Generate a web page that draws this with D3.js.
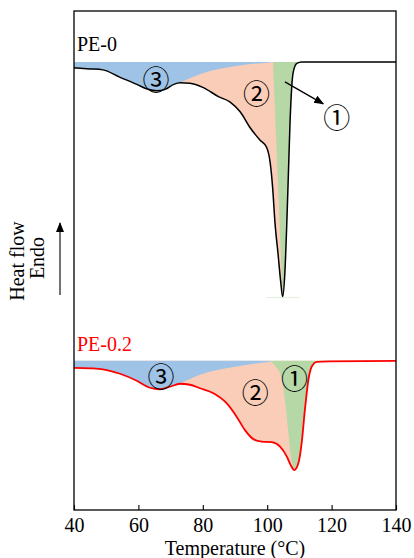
<!DOCTYPE html>
<html>
<head>
<meta charset="utf-8">
<script src="https://cdn.jsdelivr.net/npm/d3@7/dist/d3.min.js"></script>
<style>
  html, body { margin: 0; padding: 0; background: #fff; }
  svg { display: block; }
  text { font-family: "Liberation Serif", "Times New Roman", serif; }
</style>
</head>
<body>
<svg id="chart" width="414" height="558"></svg>
<script>
// ---------- data ----------
const tempTicks = [40, 60, 80, 100, 120, 140];

// PE-0 DSC curve [temperature °C, heat flow (a.u.)]
const pe0Curve = [[40,8.86],[45,8.84],[49,8.82],[54,8.68],[59.5,8.53],[63,8.43],[65.7,8.40],[68.3,8.43],[71,8.53],[73,8.56],[76,8.55],[80,8.47],[85,8.28],[88.4,8.18],[91.6,7.98],[94.7,7.66],[97.8,7.41],[99.8,7.27],[100.9,6.97],[101.7,6.45],[102.4,5.77],[103.4,5.11],[104.2,4.57],[104.8,4.27],[105.5,4.77],[106.1,5.77],[106.6,6.77],[107.1,7.78],[107.6,8.46],[108.1,8.78],[109.2,8.95],[110.7,8.98],[125,8.98],[140,8.98]];
const pe0Base = 8.98;
const pe0Divider = [[72.5,8.55],[80.2,8.76],[90.5,8.90],[100.9,8.97]];
const pe0GreenEdge = [[101.8,8.98],[104.8,4.27]];

// PE-0.2 DSC curve
const pe02Curve = [[40,2.85],[45,2.84],[49,2.82],[54.3,2.73],[59.5,2.59],[63.6,2.45],[66.7,2.42],[69.8,2.47],[72.9,2.53],[76,2.51],[79.1,2.44],[83.3,2.34],[87.4,2.14],[90.5,1.87],[93.1,1.60],[95.7,1.42],[98.3,1.37],[101.4,1.36],[104,1.27],[106.1,1.07],[107.3,0.90],[108.4,0.80],[109.7,0.94],[110.7,1.34],[111.7,2.00],[112.8,2.61],[113.8,2.87],[115.4,2.97],[119.5,2.98],[140,2.99]];
const pe02Base = 2.99;
const pe02Divider = [[72.9,2.53],[79.1,2.71],[90,2.87],[100.9,2.97]];
const pe02GreenEdge = [[100.9,2.99],[104.0,2.74],[105.5,2.20],[106.6,1.54],[107.6,1.00],[108.4,0.80]];

const seriesNames = ["PE-0", "PE-0.2"];
const regionLabels = ["①", "②", "③"];
// label positions [T, heat flow]
const pe0LabelPos = [[121.6,7.89],[96.7,8.37],[65.5,8.65]];
const pe02LabelPos = [[108.5,2.66],[96.3,2.37],[67.0,2.70]];
const pe0Arrow = [[105.5,8.58],[117.4,8.14]];

// ---------- layout ----------
const W = 414, H = 558;
const L = 74, R = 396, T = 11, B = 510;
const colors = { blue: "#9fc3e6", orange: "#f9cdb7", green: "#b6d7a6" };

const svg = d3.select("#chart");
const x = d3.scaleLinear().domain([40, 140]).range([L, R]);
const y = d3.scaleLinear().domain([0, 10]).range([B, T]);

const defs = svg.append("defs");
defs.append("marker").attr("id", "arrowHead")
  .attr("viewBox", "0 0 10 10").attr("refX", 9).attr("refY", 5)
  .attr("markerWidth", 10).attr("markerHeight", 10)
  .attr("markerUnits", "userSpaceOnUse").attr("orient", "auto")
  .append("path").attr("d", "M0,1 L10,5 L0,9 Z").attr("fill", "#000");

function drawSeries(id, curve, base, divider, greenEdge, color, lw) {
  const g = svg.append("g");
  // clip for blue region
  const blueClip = defs.append("clipPath").attr("id", "blue" + id);
  blueClip.append("rect").attr("x", L - 2).attr("y", T)
    .attr("width", x(divider[0][0]) - L + 2).attr("height", B - T);
  blueClip.append("path").attr("d",
    d3.area().x(d => x(d[0])).y0(y(base) - 3).y1(d => y(d[1])).curve(d3.curveMonotoneX)(divider));
  // clip for green region
  const edge = d3.line().x(d => x(d[0])).y(d => y(d[1])).curve(d3.curveMonotoneY)(greenEdge);
  const first = greenEdge[0], last = greenEdge[greenEdge.length - 1];
  const gd = "M" + x(first[0]) + "," + T + "L" + edge.slice(1) +
    "L" + x(last[0]) + "," + B + "L" + (R + 2) + "," + B + "L" + (R + 2) + "," + T + "Z";
  defs.append("clipPath").attr("id", "green" + id).append("path").attr("d", gd);

  const area = d3.area().x(d => x(d[0])).y0(y(base)).y1(d => y(d[1])).curve(d3.curveMonotoneX);
  g.append("path").attr("d", area(curve)).attr("fill", colors.orange);
  g.append("path").attr("d", area(curve)).attr("fill", colors.blue).attr("clip-path", `url(#blue${id})`);
  g.append("path").attr("d", area(curve)).attr("fill", colors.green).attr("clip-path", `url(#green${id})`);

  g.append("path")
    .attr("d", d3.line().x(d => x(d[0])).y(d => y(d[1])).curve(d3.curveMonotoneX)(curve))
    .attr("fill", "none").attr("stroke", color).attr("stroke-width", lw)
    .attr("stroke-linejoin", "round");
}

drawSeries("0", pe0Curve, pe0Base, pe0Divider, pe0GreenEdge, "#000", 1.5);
drawSeries("2", pe02Curve, pe02Base, pe02Divider, pe02GreenEdge, "#ff0000", 1.8);

// faint line beneath PE-0 peak
const peak0 = pe0Curve.reduce((a, b) => (b[1] < a[1] ? b : a));
svg.append("line").attr("x1", x(peak0[0] - 5.2)).attr("x2", x(peak0[0] + 5.2))
  .attr("y1", y(peak0[1]) + 0.5).attr("y2", y(peak0[1]) + 0.5)
  .attr("stroke", "#e2eddb").attr("stroke-width", 1);

// arrow to ①
svg.append("line")
  .attr("x1", x(pe0Arrow[0][0])).attr("y1", y(pe0Arrow[0][1]))
  .attr("x2", x(pe0Arrow[1][0])).attr("y2", y(pe0Arrow[1][1]))
  .attr("stroke", "#000").attr("stroke-width", 1.3).attr("marker-end", "url(#arrowHead)");

// region labels
function labels(pos) {
  svg.append("g").selectAll("text").data(pos).join("text")
    .attr("x", d => x(d[0])).attr("y", d => y(d[1]))
    .attr("text-anchor", "middle").attr("dominant-baseline", "central")
    .style("font-family", '"Noto Sans CJK SC", "DejaVu Sans", sans-serif')
    .style("font-size", "27px").attr("fill", "#000")
    .text((d, i) => regionLabels[i]);
}
labels(pe0LabelPos);
labels(pe02LabelPos);

// series names
svg.append("text").attr("x", 77).attr("y", 51).style("font-size", "20px").attr("fill", "#000").text(seriesNames[0]);
svg.append("text").attr("x", 77).attr("y", 351).style("font-size", "20px").attr("fill", "#ff0000").text(seriesNames[1]);

// frame
svg.append("rect").attr("x", L).attr("y", T).attr("width", R - L).attr("height", B - T)
  .attr("fill", "none").attr("stroke", "#000").attr("stroke-width", 1.3);

// bottom axis
const ax = svg.append("g").attr("transform", `translate(0,${B})`)
  .call(d3.axisBottom(x).tickValues(tempTicks).tickSizeInner(-5).tickSizeOuter(0).tickPadding(8).tickFormat(d3.format("d")));
ax.select(".domain").remove();
ax.selectAll("line").attr("stroke", "#000").attr("stroke-width", 1.1);
ax.selectAll("text").style("font-family", '"Liberation Serif", serif').style("font-size", "20px").attr("fill", "#000");

svg.append("text").attr("x", (L + R) / 2).attr("y", 555).attr("text-anchor", "middle")
  .style("font-size", "20px").text("Temperature (°C)");

// y label
svg.append("text").attr("transform", "translate(24,261) rotate(-90)").attr("text-anchor", "middle")
  .style("font-size", "20px").text("Heat flow");
svg.append("text").attr("transform", "translate(43.5,258) rotate(-90)").attr("text-anchor", "middle")
  .style("font-size", "20px").text("Endo");
svg.append("line").attr("x1", 60).attr("x2", 60).attr("y1", 295).attr("y2", 223)
  .attr("stroke", "#000").attr("stroke-width", 1.1).attr("marker-end", "url(#arrowHead)");
</script>
</body>
</html>
